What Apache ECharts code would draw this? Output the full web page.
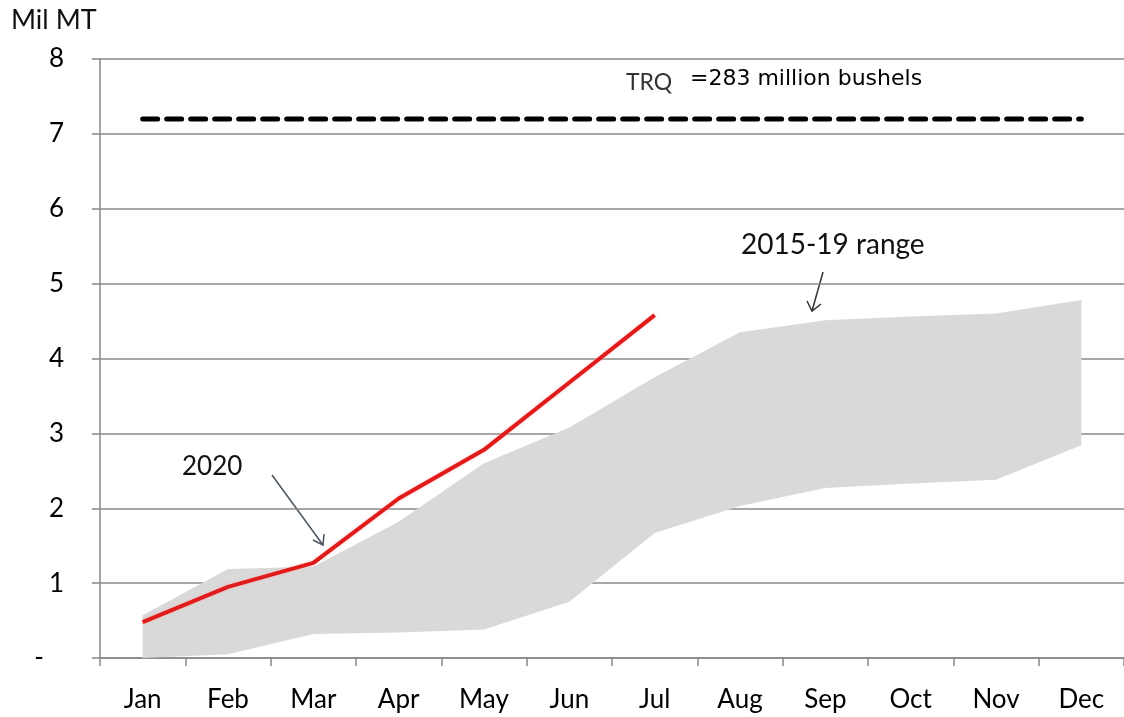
<!DOCTYPE html>
<html>
<head>
<meta charset="utf-8">
<script src="https://cdn.jsdelivr.net/npm/echarts@6/dist/echarts.min.js"></script>
<style>
html,body{margin:0;padding:0;background:#fff;}
#c{width:1124px;height:717px;}
</style>
</head>
<body>
<div id="c"></div>
<script>
const months = ['Jan','Feb','Mar','Apr','May','Jun','Jul','Aug','Sep','Oct','Nov','Dec'];
const rangeLow  = [0.00,0.05,0.32,0.34,0.38,0.75,1.67,2.03,2.27,2.33,2.38,2.84];
const rangeHigh = [0.57,1.19,1.22,1.82,2.60,3.08,3.75,4.35,4.51,4.56,4.60,4.78];
const y2020     = [0.48,0.95,1.27,2.13,2.78,3.68,4.58];
const trqValue  = 7.2;
const yTicks    = [0,1,2,3,4,5,6,7,8];

const rangeSpan = rangeHigh.map((h,i)=>+(h-rangeLow[i]).toFixed(3));
const trqLine = months.map(()=>trqValue);

const FONT = 'Lato';
const chart = echarts.init(document.getElementById('c'), null, {renderer:'canvas'});
chart.setOption({
  animation:false,
  backgroundColor:'#fff',
  grid:{left:100, right:-8, top:59, bottom:59, containLabel:false},
  xAxis:{
    type:'category', data:months, boundaryGap:true,
    axisLine:{lineStyle:{color:'#888', width:1.5}},
    axisTick:{show:true, length:8, lineStyle:{color:'#888', width:1.5}},
    axisLabel:{color:'#000', fontFamily:FONT, fontSize:26, margin:29}
  },
  yAxis:{
    type:'value', min:yTicks[0], max:yTicks[yTicks.length-1], interval:1,
    axisLine:{show:true, lineStyle:{color:'#888', width:1.5}},
    axisTick:{show:true, length:8, lineStyle:{color:'#888', width:1.5}},
    splitLine:{show:true, lineStyle:{color:'#8a8a8a', width:1.5}},
    axisLabel:{color:'#000', fontFamily:FONT, fontSize:26, margin:36,
      formatter:v=> v===0 ? '-   ' : String(v)}
  },
  series:[
    {name:'low', type:'line', data:rangeLow, stack:'r', symbol:'none',
     lineStyle:{opacity:0}, areaStyle:{opacity:0}, silent:true},
    {name:'2015-19 range', type:'line', data:rangeSpan, stack:'r', symbol:'none',
     lineStyle:{opacity:0}, areaStyle:{color:'#d9d9d9', opacity:1}, silent:true},
    {name:'TRQ', type:'line', data:trqLine, symbol:'none',
     lineStyle:{color:'#000', width:5, type:[15,9], cap:'round'}},
    {name:'2020', type:'line', data:y2020, symbol:'none',
     lineStyle:{color:'#e01b1b', width:4, shadowColor:'rgba(255,180,180,0.8)', shadowBlur:3}}
  ],
  graphic:[
    {type:'text', left:11, top:7, style:{text:'Mil MT', fontFamily:FONT, fontSize:27, fill:'#111'}},
    {type:'text', left:626, top:71, style:{text:'TRQ', fontFamily:FONT, fontSize:23, fill:'#333'}},
    {type:'text', left:690, top:68, style:{text:'=283 million bushels', fontFamily:'DejaVu Sans', fontSize:22, fill:'#000'}},
    {type:'text', left:741, top:231, style:{text:'2015-19 range', fontFamily:FONT, fontSize:28, fill:'#111'}},
    {type:'text', left:182, top:454, style:{text:'2020', fontFamily:FONT, fontSize:26, fill:'#111'}},
    {type:'polyline', shape:{points:[[272,475],[323,545]]}, style:{stroke:'#4a5560', lineWidth:1.5, fill:null}},
    {type:'polyline', shape:{points:[[313,540],[323,545],[324,534]]}, style:{stroke:'#4a5560', lineWidth:1.5, fill:null}},
    {type:'polyline', shape:{points:[[823,272],[812,311]]}, style:{stroke:'#333', lineWidth:1.5, fill:null}},
    {type:'polyline', shape:{points:[[807,301],[812,311],[821,304]]}, style:{stroke:'#333', lineWidth:1.5, fill:null}}
  ]
});
</script>
</body>
</html>
